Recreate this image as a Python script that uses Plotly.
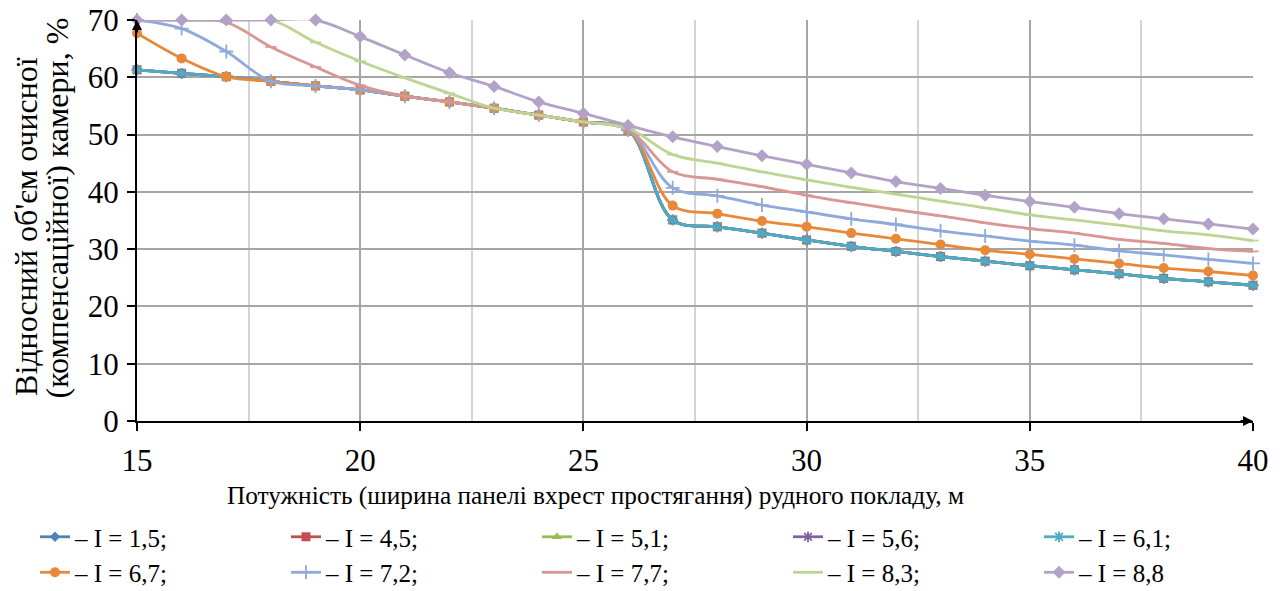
import plotly.graph_objects as go

# Ширина рудного покладу, м
x_vals = list(range(15, 41))

# Відносний об'єм камери, % (для кожного значення I)
i_15 = [61.3, 60.7, 60.1, 59.3, 58.5, 57.8, 56.7, 55.7, 54.6, 53.4, 52.2, 50.8,
        35.1, 33.9, 32.8, 31.6, 30.5, 29.6, 28.7, 27.9, 27.1, 26.4, 25.7, 24.9, 24.3, 23.7]
i_45 = [61.3, 60.7, 60.1, 59.3, 58.5, 57.8, 56.7, 55.7, 54.6, 53.4, 52.2, 50.8,
        35.1, 33.9, 32.8, 31.6, 30.5, 29.6, 28.7, 27.9, 27.1, 26.4, 25.7, 24.9, 24.3, 23.7]
i_51 = [61.3, 60.7, 60.1, 59.3, 58.5, 57.8, 56.7, 55.7, 54.6, 53.4, 52.2, 50.8,
        35.1, 33.9, 32.8, 31.6, 30.5, 29.6, 28.7, 27.9, 27.1, 26.4, 25.7, 24.9, 24.3, 23.7]
i_56 = [61.3, 60.7, 60.1, 59.3, 58.5, 57.8, 56.7, 55.7, 54.6, 53.4, 52.2, 50.8,
        35.1, 33.9, 32.8, 31.6, 30.5, 29.6, 28.7, 27.9, 27.1, 26.4, 25.7, 24.9, 24.3, 23.7]
i_61 = [61.3, 60.7, 60.1, 59.3, 58.5, 57.8, 56.7, 55.7, 54.6, 53.4, 52.2, 50.8,
        35.1, 33.9, 32.8, 31.6, 30.5, 29.6, 28.7, 27.9, 27.1, 26.4, 25.7, 24.9, 24.3, 23.7]
i_67 = [67.7, 63.3, 60.1, 59.3, 58.5, 57.8, 56.7, 55.7, 54.6, 53.4, 52.2, 50.8,
        37.6, 36.2, 34.9, 33.9, 32.8, 31.8, 30.8, 29.8, 29.1, 28.3, 27.5, 26.7, 26.1, 25.4]
i_72 = [70.0, 68.5, 64.5, 59.3, 58.5, 57.8, 56.7, 55.7, 54.6, 53.4, 52.2, 50.8,
        40.7, 39.3, 37.7, 36.5, 35.3, 34.3, 33.2, 32.3, 31.4, 30.7, 29.7, 29.0, 28.2, 27.5]
i_77 = [70.0, 70.0, 69.6, 65.3, 61.8, 58.6, 56.7, 55.7, 54.6, 53.4, 52.2, 50.9,
        43.5, 42.2, 40.9, 39.4, 38.1, 36.9, 35.8, 34.6, 33.6, 32.8, 31.7, 31.0, 30.1, 29.6]
i_83 = [70.0, 70.0, 70.0, 70.0, 66.1, 62.8, 59.9, 57.2, 54.6, 53.4, 52.2, 51.1,
        46.5, 45.0, 43.5, 42.1, 40.8, 39.6, 38.4, 37.2, 36.0, 35.1, 34.2, 33.2, 32.5, 31.5]
i_88 = [70.0, 70.0, 70.0, 70.0, 70.0, 67.1, 63.9, 60.8, 58.4, 55.7, 53.7, 51.6,
        49.6, 47.9, 46.3, 44.8, 43.3, 41.8, 40.6, 39.4, 38.3, 37.3, 36.2, 35.3, 34.4, 33.5]

series_names = ["– I = 1,5;", "– I = 4,5;", "– I = 5,1;", "– I = 5,6;", "– I = 6,1;",
                "– I = 6,7;", "– I = 7,2;", "– I = 7,7;", "– I = 8,3;", "– I = 8,8"]
series_values = [i_15, i_45, i_51, i_56, i_61, i_67, i_72, i_77, i_83, i_88]

colors = ["#4F81BD", "#C0504D", "#9BBB59", "#8064A2", "#4BACC6",
          "#E8883A", "#8EA9DB", "#D99694", "#BCD592", "#B3A2C7"]
symbols = ["diamond", "square", "triangle-up", "asterisk", "asterisk",
           "circle", "cross-thin", "line-ew", "line-ew", "diamond"]
sizes = [8, 9, 9, 9, 9, 10, 10, 8, 8, 10]

FONT = "Liberation Serif"

fig = go.Figure()
for name, vals, col, sym, sz in zip(series_names, series_values, colors, symbols, sizes):
    open_sym = sym in ("asterisk", "cross-thin", "line-ew")
    fig.add_trace(go.Scatter(
        x=x_vals, y=vals, name=name, mode="lines+markers",
        line=dict(color=col, width=2.8, shape="spline", smoothing=1),
        marker=dict(symbol=sym, size=sz, color=col,
                    line=dict(color=col, width=1.8 if open_sym else 0)),
        cliponaxis=False,
    ))

fig.update_layout(
    width=1283, height=591,
    margin=dict(l=137, r=30, t=20, b=170, autoexpand=False),
    paper_bgcolor="white", plot_bgcolor="white",
    font=dict(family=FONT, size=25, color="black"),
    showlegend=True,
    legend=dict(orientation="h", x=-0.0914, xanchor="left", y=-0.232, yanchor="top",
                entrywidth=206, entrywidthmode="pixels",
                font=dict(family=FONT, size=25, color="black"),
                traceorder="normal", itemwidth=30, bgcolor="rgba(0,0,0,0)"),
    xaxis=dict(range=[15, 40], dtick=5, tick0=15,
               showline=True, linecolor="black", linewidth=2,
               ticks="outside", ticklen=8, tickwidth=2, tickcolor="black",
               ticklabelstandoff=3,
               showgrid=True, gridcolor="#A6A6A6", gridwidth=1.5,
               minor=dict(dtick=2.5, showgrid=True, gridcolor="#D4D4D4", gridwidth=1.5),
               zeroline=False, tickfont=dict(family=FONT, size=31)),
    yaxis=dict(range=[0, 70], dtick=10,
               showline=True, linecolor="black", linewidth=2,
               ticks="outside", ticklen=8, tickwidth=2, tickcolor="black",
               ticklabelstandoff=2,
               showgrid=True, gridcolor="#A6A6A6", gridwidth=1.5,
               zeroline=False, tickfont=dict(family=FONT, size=31)),
)

# Y-axis title, two lines
fig.add_annotation(text="Відносний об'єм очисної",
                   xref="paper", yref="paper", x=(26 - 137) / 1116, y=0.484,
                   textangle=-90, showarrow=False, xanchor="center", yanchor="middle",
                   font=dict(family=FONT, size=32))
fig.add_annotation(text="(компенсаційної) камери, %",
                   xref="paper", yref="paper", x=(57 - 137) / 1116, y=0.530,
                   textangle=-90, showarrow=False, xanchor="center", yanchor="middle",
                   font=dict(family=FONT, size=32))
# X-axis title
fig.add_annotation(text="Потужність (ширина панелі вхрест простягання) рудного покладу, м",
                   xref="paper", yref="paper", x=0.411, y=-0.185,
                   showarrow=False, xanchor="center", yanchor="middle",
                   font=dict(family=FONT, size=25.3))

# Arrow heads at the ends of the axes
fig.add_annotation(x=40, y=0, xref="x", yref="y", ax=-14, ay=0, axref="pixel", ayref="pixel",
                   text="", showarrow=True, arrowhead=2, arrowsize=1, arrowwidth=2,
                   arrowcolor="black")
fig.add_annotation(x=15, y=70, xref="x", yref="y", ax=0, ay=14, axref="pixel", ayref="pixel",
                   text="", showarrow=True, arrowhead=2, arrowsize=1, arrowwidth=2,
                   arrowcolor="black")

fig.write_html("out.html")
